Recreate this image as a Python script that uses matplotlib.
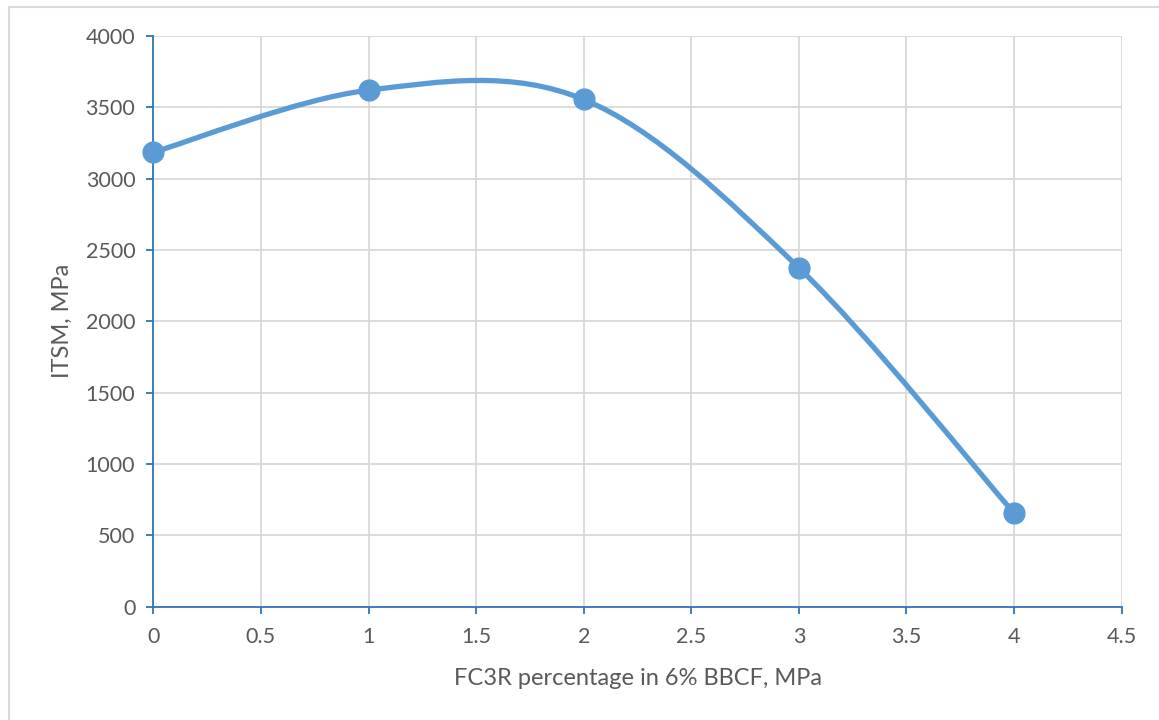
import matplotlib
matplotlib.use("Agg")
import matplotlib.pyplot as plt
from matplotlib.path import Path
from matplotlib.patches import PathPatch, Rectangle

# FC3R percentage vs ITSM
fc3r = [0, 1, 2, 3, 4]
itsm = [3185, 3620, 3555, 2375, 655]

x_ticks = [0, 0.5, 1, 1.5, 2, 2.5, 3, 3.5, 4, 4.5]
y_ticks = [0, 500, 1000, 1500, 2000, 2500, 3000, 3500, 4000]

line_color = "#5B9BD5"
axis_color = "#2E75B6"
text_color = "#595959"
grid_color = "#D9D9D9"

plt.rcParams["font.family"] = ["Lato", "DejaVu Sans"]


def smooth_path(xs, ys):
    # excel style smoothed line: cubic bezier with 1/6 tangents
    pts = list(zip(xs, ys))
    n = len(pts)
    verts = [pts[0]]
    codes = [Path.MOVETO]
    for i in range(n - 1):
        p0 = pts[i - 1] if i > 0 else pts[i]
        p1 = pts[i]
        p2 = pts[i + 1]
        p3 = pts[i + 2] if i + 2 < n else pts[i + 1]
        c1 = (p1[0] + (p2[0] - p0[0]) / 6, p1[1] + (p2[1] - p0[1]) / 6)
        c2 = (p2[0] - (p3[0] - p1[0]) / 6, p2[1] - (p3[1] - p1[1]) / 6)
        verts += [c1, c2, p2]
        codes += [Path.CURVE4] * 3
    return Path(verts, codes)


fig = plt.figure(figsize=(11.59, 7.2), dpi=100)
fig.patches.append(Rectangle((9 / 1159, -0.1), 1.2, 1 - 7 / 720 + 0.1,
                             transform=fig.transFigure, fill=False,
                             edgecolor="#D9D9D9", linewidth=1.5))
ax = fig.add_axes([0.1323, 0.1575, 0.8355, 0.7925])

ax.add_patch(PathPatch(smooth_path(fc3r, itsm), fill=False,
                       edgecolor=line_color, linewidth=3.8,
                       capstyle="round", zorder=3))
ax.plot(fc3r, itsm, linestyle="none", marker="o", markersize=15,
        color=line_color, zorder=4, clip_on=False)

ax.set_xlim(0, 4.5)
ax.set_ylim(0, 4000)
ax.set_xticks(x_ticks)
ax.set_xticklabels([("%g" % v) for v in x_ticks])
ax.set_yticks(y_ticks)
ax.grid(True, color=grid_color, linewidth=1.3)
ax.set_axisbelow(True)

for side in ["top", "right"]:
    ax.spines[side].set_visible(False)
for side in ["left", "bottom"]:
    ax.spines[side].set_color(axis_color)
    ax.spines[side].set_linewidth(1.3)

ax.tick_params(axis="both", colors=axis_color, length=5, width=1.3,
               labelcolor=text_color, labelsize=15.5)
ax.tick_params(axis="x", pad=10)
ax.tick_params(axis="y", pad=8)

ax.set_xlabel("FC3R percentage in 6% BBCF, MPa", fontsize=17,
              color=text_color, labelpad=15)
ax.set_ylabel("ITSM, MPa", fontsize=17, color=text_color, labelpad=9)

plt.savefig("out.png", dpi=100)
